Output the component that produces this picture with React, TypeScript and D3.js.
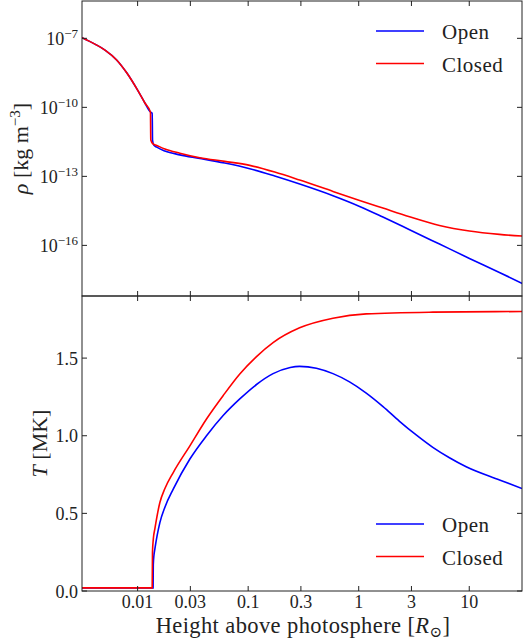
import * as d3 from "d3";

// Height above photosphere [R_sun] and density [kg m^-3]
const openRhoHeight = [0.00314, 0.00411, 0.00507, 0.00646, 0.008, 0.01, 0.01164, 0.01306, 0.01355, 0.01364, 0.014, 0.0149, 0.01766, 0.0241, 0.03655, 0.06143, 0.1034, 0.1739, 0.2925, 0.5853, 1.019, 1.655, 2.883, 5.381, 10.04, 18.74, 30.2];
const openRho = [1.07e-7, 5.6e-8, 3.1e-8, 1.15e-8, 3.1e-9, 5.6e-10, 1.55e-10, 6.3e-11, 5.6e-11, 3.8e-12, 2.3e-12, 1.86e-12, 1.26e-12, 8.6e-13, 6.04e-13, 3.78e-13, 2.15e-13, 1.03e-13, 4.62e-14, 1.44e-14, 4.94e-15, 1.7e-15, 4.79e-16, 1.14e-16, 2.71e-17, 6.68e-18, 2.22e-18];
const closedRhoHeight = [0.00314, 0.00411, 0.00507, 0.00646, 0.008, 0.01, 0.01164, 0.01306, 0.01316, 0.01375, 0.0149, 0.01766, 0.0241, 0.03655, 0.06143, 0.1034, 0.1739, 0.2925, 0.5853, 1.019, 1.655, 2.883, 5.381, 10.04, 18.74, 30.2];
const closedRho = [1.07e-7, 5.6e-8, 3.1e-8, 1.15e-8, 3.1e-9, 5.6e-10, 1.55e-10, 6.3e-11, 3.8e-12, 2.6e-12, 2.2e-12, 1.55e-12, 1.02e-12, 6.46e-13, 4.49e-13, 3.0e-13, 1.54e-13, 6.9e-14, 2.22e-14, 9.0e-15, 4.19e-15, 1.76e-15, 7.38e-16, 4.19e-16, 3.0e-16, 2.54e-16];

// temperature [MK]
const openTHeight = [0.00314, 0.0138, 0.01386, 0.01405, 0.01432, 0.0159, 0.01766, 0.021, 0.0297, 0.042, 0.0594, 0.084, 0.119, 0.168, 0.24, 0.292, 0.414, 0.585, 0.826, 1.17, 1.66, 2.34, 3.31, 4.68, 6.62, 9.38, 18.8, 30];
const openT = [0.02, 0.02, 0.17, 0.23, 0.27, 0.44, 0.54, 0.656, 0.85, 1.0, 1.13, 1.237, 1.33, 1.4, 1.44, 1.447, 1.435, 1.4, 1.347, 1.275, 1.188, 1.093, 1.005, 0.925, 0.858, 0.8, 0.715, 0.66];
const closedTHeight = [0.00314, 0.01355, 0.01363, 0.01389, 0.01432, 0.0159, 0.01766, 0.021, 0.0297, 0.042, 0.0593, 0.084, 0.119, 0.168, 0.292, 0.585, 1.17, 4.68, 30];
const closedT = [0.02, 0.02, 0.25, 0.34, 0.4, 0.57, 0.66, 0.763, 0.935, 1.108, 1.258, 1.398, 1.51, 1.6, 1.695, 1.757, 1.785, 1.796, 1.8];

const xTicks = [0.01, 0.03, 0.1, 0.3, 1, 3, 10];
const xTickLabels = ["0.01", "0.03", "0.1", "0.3", "1", "3", "10"];
const rhoTicks = [1e-7, 1e-10, 1e-13, 1e-16];
const rhoTickExp = ["−7", "−10", "−13", "−16"];
const tTicks = [0, 0.5, 1, 1.5];
const tTickLabels = ["0.0", "0.5", "1.0", "1.5"];
const seriesNames = ["Open", "Closed"];
const seriesColors = ["#0000ff", "#ff0000"];

const font = "'Liberation Serif', 'DejaVu Serif', serif";
const ink = "#222";

export default function App() {
  const width = 523;
  const height = 641;
  const left = 82;
  const right = 522;
  const top = 1;
  const mid = 296;
  const bottom = 591;
  const tick = 5;

  const x = d3.scaleLog().domain([0.00314, 30]).range([left, right]);
  const yRho = d3.scaleLog().domain([6.3e-19, 4.2e-6]).range([mid, top]);
  const yT = d3.scaleLinear().domain([0, 1.9]).range([bottom, mid]);

  const rhoLine = d3
    .line<[number, number]>()
    .x((d) => x(d[0]))
    .y((d) => yRho(d[1]))
    .curve(d3.curveMonotoneX);
  const tLine = d3
    .line<[number, number]>()
    .x((d) => x(d[0]))
    .y((d) => yT(d[1]))
    .curve(d3.curveMonotoneX);

  const rhoSeries = [
    d3.zip(openRhoHeight, openRho) as [number, number][],
    d3.zip(closedRhoHeight, closedRho) as [number, number][],
  ];
  const tSeries = [
    d3.zip(openTHeight, openT) as [number, number][],
    d3.zip(closedTHeight, closedT) as [number, number][],
  ];

  const legend = (y0: number) =>
    seriesNames.map((name, i) => (
      <g key={name}>
        <line x1={376} x2={424} y1={y0 + i * 32.5} y2={y0 + i * 32.5} stroke={seriesColors[i]} strokeWidth={1.6} />
        <text x={442} y={y0 + i * 32.5 + 8} fontSize={21} letterSpacing={0.5} fill={ink}>
          {name}
        </text>
      </g>
    ));

  return (
    <div style={{ position: "absolute", left: 0, top: 0 }}>
      <svg width={width} height={height} style={{ fontFamily: font, display: "block" }}>
        <defs>
          <clipPath id="clipTop">
            <rect x={left} y={top} width={right - left} height={mid - top} />
          </clipPath>
          <clipPath id="clipBot">
            <rect x={left} y={mid} width={right - left} height={bottom - mid} />
          </clipPath>
        </defs>
        <rect width={width} height={height} fill="white" />

        {/* curves */}
        <g clipPath="url(#clipTop)">
          {rhoSeries.map((s, i) => (
            <path key={i} d={rhoLine(s) ?? ""} fill="none" stroke={seriesColors[i]} strokeWidth={1.6} />
          ))}
        </g>
        <g clipPath="url(#clipBot)">
          {tSeries.map((s, i) => (
            <path key={i} d={tLine(s) ?? ""} fill="none" stroke={seriesColors[i]} strokeWidth={1.6} />
          ))}
        </g>

        {/* x ticks on all horizontal spines */}
        {xTicks.map((t) => (
          <g key={t} stroke={ink} strokeWidth={1}>
            <line x1={x(t)} x2={x(t)} y1={top} y2={top + tick} />
            <line x1={x(t)} x2={x(t)} y1={mid} y2={mid - tick} />
            <line x1={x(t)} x2={x(t)} y1={mid} y2={mid + tick} />
            <line x1={x(t)} x2={x(t)} y1={bottom} y2={bottom - tick} />
          </g>
        ))}
        {xTicks.map((t, i) => (
          <text key={t} x={x(t)} y={607.5} textAnchor="middle" fontSize={18} fill={ink}>
            {xTickLabels[i]}
          </text>
        ))}

        {/* density axis */}
        {rhoTicks.map((t, i) => (
          <g key={t}>
            <line x1={left} x2={left + tick} y1={yRho(t)} y2={yRho(t)} stroke={ink} />
            <line x1={right} x2={right - tick} y1={yRho(t)} y2={yRho(t)} stroke={ink} />
            <text x={left - 4} y={yRho(t) + 6.5} textAnchor="end" fontSize={18} fill={ink}>
              10
              <tspan dy={-7} fontSize={13}>
                {rhoTickExp[i]}
              </tspan>
            </text>
          </g>
        ))}

        {/* temperature axis */}
        {tTicks.map((t, i) => (
          <g key={t}>
            <line x1={left} x2={left + tick} y1={yT(t)} y2={yT(t)} stroke={ink} />
            <line x1={right} x2={right - tick} y1={yT(t)} y2={yT(t)} stroke={ink} />
            <text x={left - 4} y={yT(t) + 6.5} textAnchor="end" fontSize={18} fill={ink}>
              {tTickLabels[i]}
            </text>
          </g>
        ))}

        {/* spines */}
        <rect x={left} y={top} width={right - left} height={mid - top} fill="none" stroke={ink} strokeWidth={1} />
        <rect x={left} y={mid} width={right - left} height={bottom - mid} fill="none" stroke={ink} strokeWidth={1} />

        {/* axis labels */}
        <text transform={`translate(28,${(top + mid) / 2}) rotate(-90)`} textAnchor="middle" fontSize={22} fill={ink}>
          <tspan fontStyle="italic">ρ</tspan> [kg m
          <tspan dy={-8} fontSize={15}>−3</tspan>
          <tspan dy={8}>]</tspan>
        </text>
        <text transform={`translate(47,${(mid + bottom) / 2}) rotate(-90)`} textAnchor="middle" fontSize={22} fill={ink}>
          <tspan fontStyle="italic">T</tspan> [MK]
        </text>
        <text x={(left + right) / 2 + 1} y={632.5} textAnchor="middle" fontSize={22.5} letterSpacing={0.4} fill={ink}>
          Height above photosphere [<tspan fontStyle="italic">R</tspan>
          <tspan dy={4} fontSize={15}>⊙</tspan>
          <tspan dy={-4}>]</tspan>
        </text>

        {/* legends */}
        {legend(31)}
        {legend(524)}
      </svg>
    </div>
  );
}
